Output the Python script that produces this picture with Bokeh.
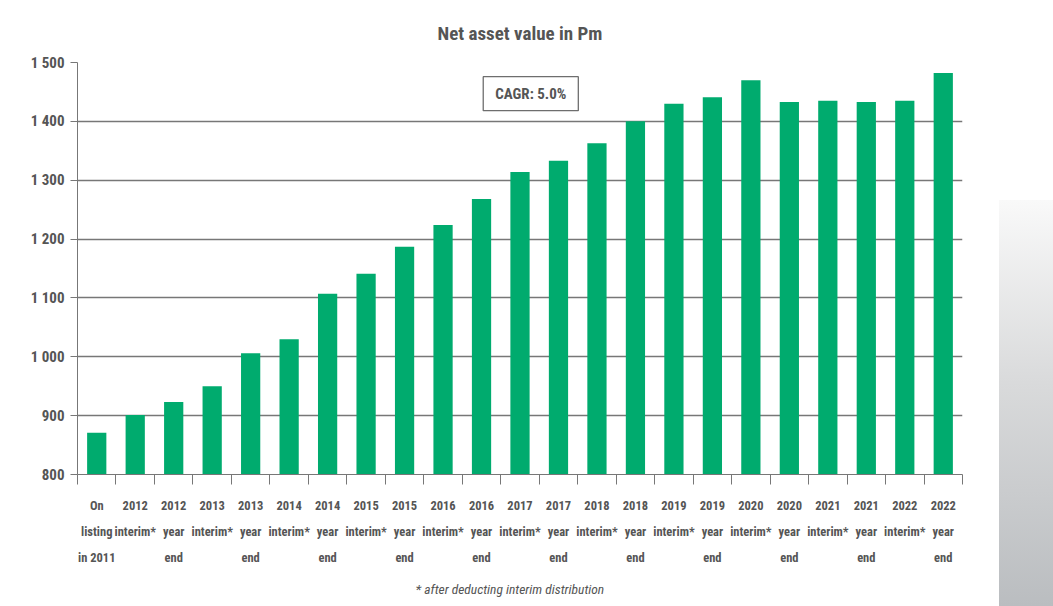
from bokeh.plotting import figure
from bokeh.models import (ColumnDataSource, FixedTicker, Label, Range1d, Div, Spacer, Title)
from bokeh.layouts import row, column
from bokeh.embed import file_html
from bokeh.resources import INLINE

# ---- data ----
categories = [
    "On\nlisting\nin 2011",
    "2012\ninterim*", "2012\nyear\nend",
    "2013\ninterim*", "2013\nyear\nend",
    "2014\ninterim*", "2014\nyear\nend",
    "2015\ninterim*", "2015\nyear\nend",
    "2016\ninterim*", "2016\nyear\nend",
    "2017\ninterim*", "2017\nyear\nend",
    "2018\ninterim*", "2018\nyear\nend",
    "2019\ninterim*", "2019\nyear\nend",
    "2020\ninterim*", "2020\nyear\nend",
    "2021\ninterim*", "2021\nyear\nend",
    "2022\ninterim*", "2022\nyear\nend",
]
nav_values = [871, 901, 923, 950, 1006, 1030, 1107, 1141, 1187, 1224, 1268, 1314,
              1333, 1363, 1400, 1430, 1441, 1470, 1433, 1435, 1433, 1435, 1482]
y_ticks = [800, 900, 1000, 1100, 1200, 1300, 1400, 1500]
y_tick_labels = ["800", "900", "1 000", "1 100", "1 200", "1 300", "1 400", "1 500"]
title_text = "Net asset value in Pm"
cagr_text = "CAGR: 5.0%"
footnote_text = "* after deducting interim distribution"

FONT = "'Roboto Condensed', 'Liberation Sans Narrow', Roboto, sans-serif"
TEXT = "#555555"
GREEN = "#00ab6e"
GRID = "#777777"

n = len(categories)
centers = [i + 0.5 for i in range(n)]
source = ColumnDataSource(dict(x=centers, top=nav_values, label=categories))

p = figure(width=999, height=606, output_backend="svg", toolbar_location=None,
           x_range=Range1d(0, n), y_range=Range1d(800, 1500),
           min_border_left=77, min_border_right=37, min_border_top=62,
           min_border_bottom=132)
p.outline_line_color = None
p.background_fill_color = "white"
p.border_fill_color = "white"

# title
p.title = Title(text=title_text, align="center", text_font=FONT,
                text_font_style="bold", text_font_size="19px", text_color=TEXT,
                standoff=36)

p.vbar(x="x", top="top", bottom=800, width=0.5, source=source,
       fill_color=GREEN, line_color=None)

# y axis
p.yaxis.ticker = FixedTicker(ticks=y_ticks, minor_ticks=[])
p.yaxis.major_label_overrides = {t: l for t, l in zip(y_ticks, y_tick_labels)}
p.yaxis.major_label_text_font = FONT
p.yaxis.major_label_text_font_style = "bold"
p.yaxis.major_label_text_font_size = "15px"
p.yaxis.major_label_text_color = TEXT
p.yaxis.axis_line_color = GRID
p.yaxis.major_tick_line_color = GRID
p.yaxis.major_tick_in = 0
p.yaxis.major_tick_out = 7
p.yaxis.major_label_standoff = 6
p.yaxis.minor_tick_line_color = None

# x axis: labels at centers, ticks at boundaries (minor)
p.xaxis.ticker = FixedTicker(ticks=centers, minor_ticks=list(range(n + 1)))
p.xaxis.major_label_overrides = {c: l for c, l in zip(centers, categories)}
p.xaxis.major_label_text_font = FONT
p.xaxis.major_label_text_font_style = "bold"
p.xaxis.major_label_text_font_size = "12.5px"
p.xaxis.major_label_text_color = TEXT
p.xaxis.major_label_text_line_height = 1.76
p.xaxis.major_label_orientation = "horizontal"
p.xaxis.major_tick_line_color = None
p.xaxis.major_tick_in = 0
p.xaxis.major_tick_out = 0
p.xaxis.minor_tick_line_color = GRID
p.xaxis.minor_tick_in = 0
p.xaxis.minor_tick_out = 10
p.xaxis.major_label_standoff = 13
p.xaxis.axis_line_color = GRID

p.xgrid.grid_line_color = None
p.ygrid.ticker = FixedTicker(ticks=y_ticks)
p.ygrid.grid_line_color = GRID
p.ygrid.grid_line_width = 1.3

# CAGR box
p.add_layout(Label(x=11.78, y=1447, text=cagr_text, text_align="center",
                   text_baseline="middle", text_font=FONT, text_font_style="bold",
                   text_font_size="15px", text_color=TEXT,
                   background_fill_color="white", border_line_color="#6e6e6e",
                   border_line_width=1.3, padding=(12, 8)))

# footnote
p.add_layout(Title(text=footnote_text, align="left", offset=338, text_font=FONT,
                   text_font_style="italic", text_font_size="13.5px", text_color=TEXT,
                   standoff=20), "below")

panel = Div(width=54, height=406, margin=0, styles={
    "background": "linear-gradient(to bottom, #f9f9f9 0%, #d9dadb 45%, #babdc0 100%)"})
layout = column(row(p, column(Spacer(height=200, margin=0), panel)))

open("out.html", "w").write(file_html(layout, INLINE))
